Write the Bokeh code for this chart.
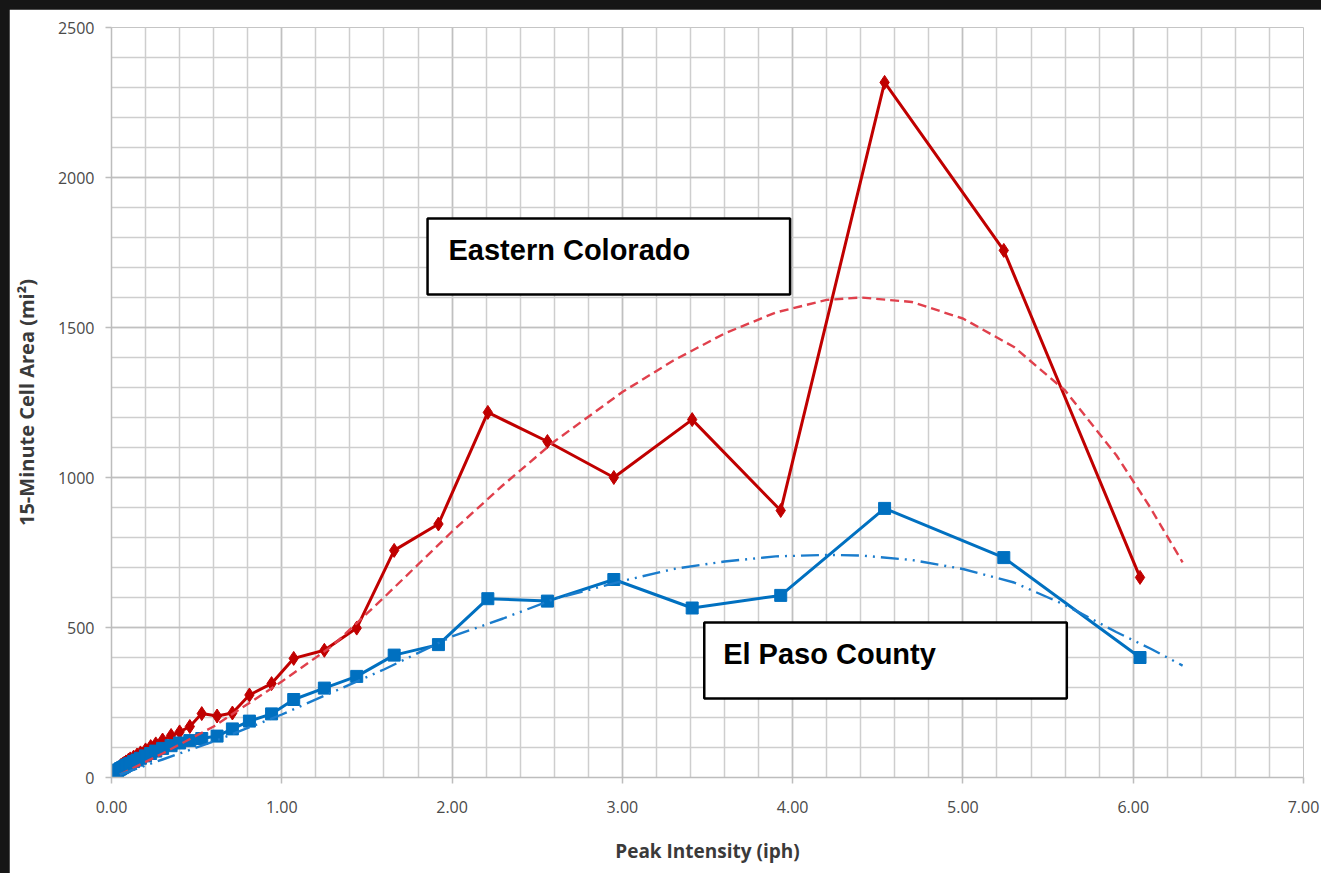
from bokeh.plotting import figure
from bokeh.models import Range1d, SingleIntervalTicker, NumeralTickFormatter, BoxAnnotation, Label
from bokeh.layouts import column
from bokeh.embed import file_html
from bokeh.resources import INLINE

# Peak intensity bins (iph) shared by both regions
intensity = [0.03, 0.035, 0.04, 0.05, 0.055, 0.065, 0.075, 0.085, 0.10, 0.11,
             0.13, 0.15, 0.17, 0.20, 0.23, 0.26, 0.30, 0.35, 0.40, 0.46,
             0.53, 0.62, 0.71, 0.81, 0.94, 1.07, 1.25, 1.44, 1.66, 1.92,
             2.21, 2.56, 2.95, 3.41, 3.93, 4.54, 5.24, 6.04]

# 15-minute cell area (mi^2)
eastern_area = [25, 30, 32, 36, 40, 44, 48, 52, 58, 62,
                68, 75, 82, 92, 103, 112, 125, 140, 152, 170,
                213, 205, 215, 275, 313, 397, 424, 498, 757, 845,
                1217, 1120, 1000, 1193, 890, 2317, 1757, 667]
elpaso_area = [20, 22, 25, 28, 30, 33, 36, 40, 44, 47,
               53, 58, 64, 72, 80, 88, 97, 106, 115, 123,
               130, 138, 162, 188, 212, 260, 298, 337, 408, 443,
               596, 588, 660, 565, 607, 897, 733, 400]

# Polynomial trendlines
trend_x = [0.05, 0.3, 0.6, 1.0, 1.3, 1.6, 2.0, 2.3, 2.6, 3.0, 3.3, 3.6,
           3.9, 4.2, 4.4, 4.7, 5.0, 5.3, 5.6, 5.9, 6.1, 6.29]
eastern_trend = [10, 80, 170, 320, 440, 600, 820, 975, 1120, 1285, 1390, 1480,
                 1550, 1592, 1600, 1585, 1530, 1435, 1290, 1075, 900, 717]
elpaso_trend = [10, 60, 120, 210, 285, 360, 470, 530, 595, 655, 695, 720,
                737, 742, 740, 725, 695, 650, 575, 485, 430, 373]

p = figure(width=1312, height=864, output_backend="svg", toolbar_location=None,
           x_range=Range1d(0, 7), y_range=Range1d(0, 2500),
           min_border_left=100, min_border_right=18, min_border_top=18,
           min_border_bottom=96, margin=(9, 0, 0, 9))
p.outline_line_color = None
p.background_fill_color = "white"
p.border_fill_color = "white"

p.xaxis.ticker = SingleIntervalTicker(interval=1, num_minor_ticks=5)
p.yaxis.ticker = SingleIntervalTicker(interval=500, num_minor_ticks=5)
p.xaxis.formatter = NumeralTickFormatter(format="0.00")
p.yaxis.formatter = NumeralTickFormatter(format="0")

for g in (p.xgrid, p.ygrid):
    g.grid_line_color = "#c0c0c0"
    g.grid_line_width = 1.5
    g.minor_grid_line_color = "#cecece"
    g.minor_grid_line_width = 1.5

for ax in (p.xaxis, p.yaxis):
    ax.axis_line_color = "#bdbdbd"
    ax.axis_line_width = 1.5
    ax.major_tick_line_color = "#bdbdbd"
    ax.major_tick_line_width = 1.5
    ax.major_tick_out = 6
    ax.major_tick_in = 0
    ax.minor_tick_line_color = None
    ax.major_label_text_font = "Open Sans"
    ax.major_label_text_font_size = "16px"
    ax.major_label_text_color = "#4a4a4a"
    ax.axis_label_text_font = "Open Sans"
    ax.axis_label_text_font_style = "bold"
    ax.axis_label_text_color = "#3a3a3a"

p.xaxis.axis_label_text_font_size = "19px"
p.yaxis.axis_label_text_font_size = "20px"
p.xaxis.major_label_standoff = 17
p.yaxis.major_label_standoff = 11
p.xaxis.axis_label = "Peak Intensity (iph)"
p.yaxis.axis_label = "15-Minute Cell Area (mi²)"
p.xaxis.axis_label_standoff = 22
p.yaxis.axis_label_standoff = 15

red = "#C00000"
blue = "#0070C0"

p.line(intensity, eastern_area, line_color=red, line_width=3)
p.scatter(intensity, eastern_area, marker="diamond", size=14, color=red)
p.line(intensity, elpaso_area, line_color=blue, line_width=3)
p.scatter(intensity, elpaso_area, marker="square", size=12, color=blue)

p.line(trend_x, eastern_trend, line_color="#E0404C", line_width=2.4, line_dash="9 5")
p.line(trend_x, elpaso_trend, line_color="#1A7CCC", line_width=2.4,
       line_dash="18 6 2 6 2 6")

# Region name boxes
east_box = BoxAnnotation(left=1.856, right=3.985, bottom=1610, top=1863,
                         fill_color="white", fill_alpha=1.0,
                         line_color="black", line_width=2.5, line_alpha=1.0)
elpaso_box = BoxAnnotation(left=3.481, right=5.610, bottom=263, top=517,
                           fill_color="white", fill_alpha=1.0,
                           line_color="black", line_width=2.5, line_alpha=1.0)
p.add_layout(east_box)
p.add_layout(elpaso_box)
p.add_layout(Label(x=1.979, y=1760, text="Eastern Colorado",
                   text_font="Liberation Sans", text_font_size="29px",
                   text_font_style="bold", text_color="black",
                   text_baseline="alphabetic"))
p.add_layout(Label(x=3.592, y=413, text="El Paso County",
                   text_font="Liberation Sans", text_font_size="29px",
                   text_font_style="bold", text_color="black",
                   text_baseline="alphabetic"))

page = column(p, styles={"background-color": "#161616"})

open("out.html", "w").write(file_html(page, INLINE))
